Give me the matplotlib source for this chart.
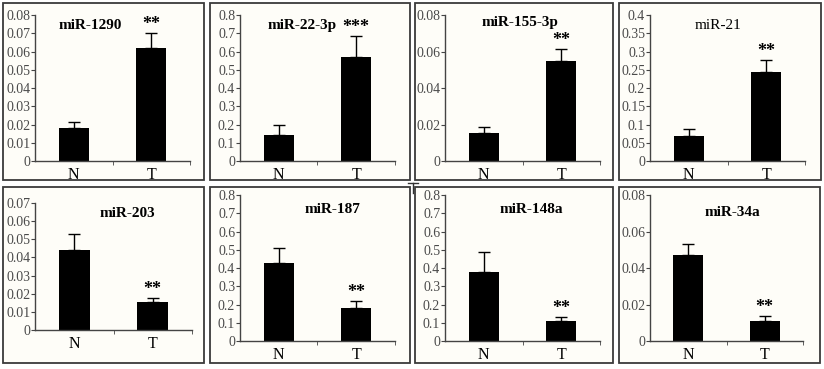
import matplotlib
matplotlib.use('Agg')
import matplotlib.pyplot as plt
from matplotlib.patches import Rectangle
from matplotlib.lines import Line2D

plt.rcParams['font.family'] = ['Liberation Serif', 'DejaVu Serif']

# Data (relative expression, N = normal, T = tumour)
genes = ['miR-1290', 'miR-22-3p', 'miR-155-3p', 'miR-21',
         'miR-203', 'miR-187', 'miR-148a', 'miR-34a']
groups = ['N', 'T']
n_mean = [0.0182, 0.144, 0.0152, 0.068, 0.044, 0.429, 0.380, 0.0471]
n_err = [0.0033, 0.052, 0.0036, 0.020, 0.009, 0.082, 0.106, 0.0062]
t_mean = [0.0621, 0.568, 0.055, 0.245, 0.0155, 0.179, 0.108, 0.0108]
t_err = [0.0082, 0.119, 0.0062, 0.032, 0.0022, 0.042, 0.022, 0.0031]
stars = ['**', '***', '**', '**', '**', '**', '**', '**']
ymax = [0.08, 0.8, 0.08, 0.4, 0.07, 0.8, 0.8, 0.08]
ystep = [0.01, 0.1, 0.02, 0.05, 0.01, 0.1, 0.1, 0.02]
title_bold = [True, True, True, False, True, True, True, True]

W, H = 824, 369
# layout in pixels: axes (left, top, right, bottom), box (left, top, right, bottom), title pos (axes frac)
ax_px = [(35, 15, 190, 161), (240, 15, 395, 161), (445, 15, 600, 161), (650, 15, 805, 161),
         (35, 203, 192, 330), (240, 195, 395, 341), (445, 195, 600, 341), (650, 195, 803, 341)]
box_px = [(3, 3, 204, 180), (210, 3, 410, 180), (415, 3, 613, 180), (619, 3, 821, 180),
          (3, 187, 204, 363), (210, 187, 410, 363), (415, 187, 613, 363), (619, 187, 820, 363)]
title_pos = [(0.355, 0.93), (0.40, 0.93), (0.484, 0.95), (0.44, 0.93),
             (0.59, 0.92), (0.60, 0.90), (0.56, 0.90), (0.54, 0.88)]

fig = plt.figure(figsize=(W / 100, H / 100), dpi=100)
fig.patch.set_facecolor('white')

for (l, t, r, b) in box_px:
    fig.patches.append(Rectangle((l / W, 1 - b / H), (r - l) / W, (b - t) / H,
                                 transform=fig.transFigure, fill=True, zorder=-5,
                                 facecolor='#fefdf8', edgecolor='#3a3a3a', lw=1.3))

# small T-shaped mark between the rows
fig.lines.append(Line2D([408 / W, 418 / W], [1 - 183 / H, 1 - 183 / H],
                        transform=fig.transFigure, color='#333333', lw=1, zorder=-5))
fig.lines.append(Line2D([413 / W, 413 / W], [1 - 183 / H, 1 - 193 / H],
                        transform=fig.transFigure, color='#333333', lw=1, zorder=-5))

for i, gene in enumerate(genes):
    l, t, r, b = ax_px[i]
    ax = fig.add_axes([l / W, 1 - b / H, (r - l) / W, (b - t) / H])
    ax.patch.set_alpha(0)
    x = [0, 1]
    means = [n_mean[i], t_mean[i]]
    errs = [n_err[i], t_err[i]]
    ax.bar(x, means, width=0.39, color='black')
    ax.errorbar(x, means, yerr=[[0, 0], errs], fmt='none', ecolor='black',
                elinewidth=1, capsize=4, capthick=1)
    ax.set_xlim(-0.5, 1.5)
    ax.set_ylim(0, ymax[i])
    n = int(round(ymax[i] / ystep[i]))
    ticks = [round(k * ystep[i], 4) for k in range(n + 1)]
    ax.set_yticks(ticks)
    ax.set_yticklabels([f'{v:g}' for v in ticks], fontsize=10, color='#4a4a4a')
    ax.set_xticks(x)
    ax.set_xticklabels(groups, fontsize=11.5)
    ax.set_xticks([0.5, 1.5], minor=True)
    ax.tick_params(axis='x', which='major', length=0, pad=4)
    ax.tick_params(axis='x', which='minor', length=3, direction='out', color='#444444')
    ax.tick_params(axis='y', length=3, direction='out', pad=0.5, color='#444444')
    for side in ['top', 'right']:
        ax.spines[side].set_visible(False)
    for side in ['left', 'bottom']:
        ax.spines[side].set_color('#444444')
        ax.spines[side].set_linewidth(1)
    tx, ty = title_pos[i]
    ax.text(tx, ty, gene, transform=ax.transAxes, ha='center', va='center',
            fontsize=11, fontweight='bold' if title_bold[i] else 'normal')
    ax.annotate(stars[i], (1, t_mean[i] + t_err[i]), xytext=(0, 0),
                textcoords='offset points', ha='center', va='bottom',
                fontsize=13, fontweight='bold')

fig.savefig('out.png', dpi=100)
